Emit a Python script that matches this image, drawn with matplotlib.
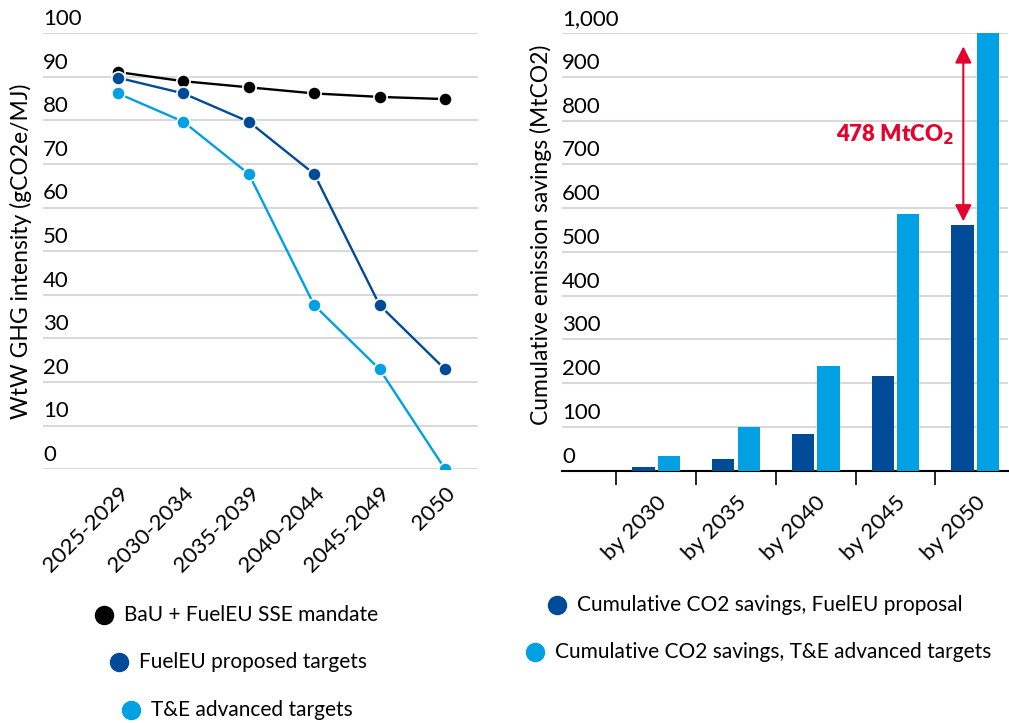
import matplotlib.pyplot as plt
from matplotlib.lines import Line2D
from matplotlib.transforms import offset_copy
import numpy as np

plt.rcParams['font.family'] = ['Lato', 'DejaVu Sans']

# left chart data
periods = ['2025-2029', '2030-2034', '2035-2039', '2040-2044', '2045-2049', '2050']
bau = [91.1, 89.0, 87.6, 86.2, 85.4, 84.9]
fueleu = [89.8, 86.2, 79.7, 67.7, 37.6, 22.9]
te = [86.2, 79.7, 67.7, 37.6, 22.9, 0.0]
left_ticks = [0, 10, 20, 30, 40, 50, 60, 70, 80, 90, 100]

# right chart data
horizons = ['by 2030', 'by 2035', 'by 2040', 'by 2045', 'by 2050']
sav_fueleu = [9, 27, 84, 216, 562]
sav_te = [34, 99, 239, 587, 1040]
right_ticks = [0, 100, 200, 300, 400, 500, 600, 700, 800, 900, 1000]
gap_value = 478

BLACK = '#000000'
DARK = '#004b97'
LIGHT = '#00a0e2'
RED = '#e4032e'
GRID = '#d9d9d9'
FS = 16

fig = plt.figure(figsize=(10.09, 7.23), dpi=100)

# ---- left: intensity lines
ax1 = fig.add_axes([0.0426, 0.351, 0.431, 0.603])
x = np.arange(len(periods))
for vals, col in [(bau, BLACK), (fueleu, DARK), (te, LIGHT)]:
    ax1.plot(x, vals, color=col, lw=1.7, marker='o', ms=9.5,
             mfc=col, mec='white', mew=1.2, zorder=3)
ax1.set_xlim(-1.147, 5.5)
ax1.set_ylim(0, 100)
ax1.set_yticks(left_ticks)
ax1.set_yticklabels([])
ax1.tick_params(axis='y', length=0)
ax1.grid(axis='y', color=GRID, lw=1.5)
ax1.set_axisbelow(True)
for s in ax1.spines.values():
    s.set_visible(False)
ax1.set_xticks(x)
ax1.set_xticklabels(periods, rotation=45, ha='right', rotation_mode='anchor', fontsize=FS)
ax1.tick_params(axis='x', length=0, pad=10)
tr1 = offset_copy(ax1.get_yaxis_transform(), fig=fig, y=3, units='points')
for v in left_ticks:
    ax1.text(0, v, str(v), transform=tr1, fontsize=FS, ha='left', va='bottom')
ax1.set_ylabel('WtW GHG intensity (gCO2e/MJ)', fontsize=16.5)
ax1.yaxis.set_label_coords(-0.025, 0.50)

# ---- right: cumulative savings bars
ax2 = fig.add_axes([0.557, 0.349, 0.442, 0.605])
xc = np.arange(len(horizons))
w = 0.28
ax2.bar(xc - 0.16, sav_fueleu, width=w, color=DARK, zorder=3)
ax2.bar(xc + 0.16, sav_te, width=w, color=LIGHT, zorder=3)
ax2.set_xlim(-1.18, 4.41)
ax2.set_ylim(0, 1000)
ax2.set_yticks(right_ticks)
ax2.set_yticklabels([])
ax2.tick_params(axis='y', length=0)
ax2.grid(axis='y', color=GRID, lw=1.5)
ax2.set_axisbelow(True)
for k in ['top', 'right', 'left']:
    ax2.spines[k].set_visible(False)
ax2.spines['bottom'].set_linewidth(1.5)
ax2.set_xticks(xc)
ax2.set_xticklabels(horizons, rotation=45, ha='right', rotation_mode='anchor', fontsize=FS)
ax2.set_xticks(xc - 0.5, minor=True)
ax2.tick_params(axis='x', which='major', length=0, pad=16)
ax2.tick_params(axis='x', which='minor', length=10, width=1.2, direction='out')
tr2 = offset_copy(ax2.get_yaxis_transform(), fig=fig, y=3, units='points')
for v in right_ticks:
    ax2.text(0, v, f'{v:,}', transform=tr2, fontsize=FS, ha='left', va='bottom')
ax2.set_ylabel('Cumulative emission savings (MtCO2)', fontsize=16.5)
ax2.yaxis.set_label_coords(-0.022, 0.54)

# gap arrow
ax2.annotate('', xy=(3.85, 970), xytext=(3.85, 570),
             arrowprops=dict(arrowstyle='<|-|>', color=RED, lw=1.5, mutation_scale=25,
                             shrinkA=0, shrinkB=0))
ax2.text(3.0, 767, f'{gap_value} MtCO$_\\mathbf{{2}}$', color=RED, fontsize=FS,
         fontweight='heavy', ha='center', va='center')

# legends
def legend_item(xm, ym, col, label):
    fig.add_artist(Line2D([xm / 1009], [1 - ym / 723], marker='o', ms=13, color=col,
                          lw=0, transform=fig.transFigure))
    fig.text((xm + 20) / 1009, 1 - ym / 723, label, fontsize=15, va='center', ha='left')

legend_item(104, 615, BLACK, 'BaU + FuelEU SSE mandate')
legend_item(119, 662, DARK, 'FuelEU proposed targets')
legend_item(131, 710, LIGHT, 'T&E advanced targets')
legend_item(557, 605, DARK, 'Cumulative CO2 savings, FuelEU proposal')
legend_item(535, 652, LIGHT, 'Cumulative CO2 savings, T&E advanced targets')

fig.savefig('out.png', dpi=100)
